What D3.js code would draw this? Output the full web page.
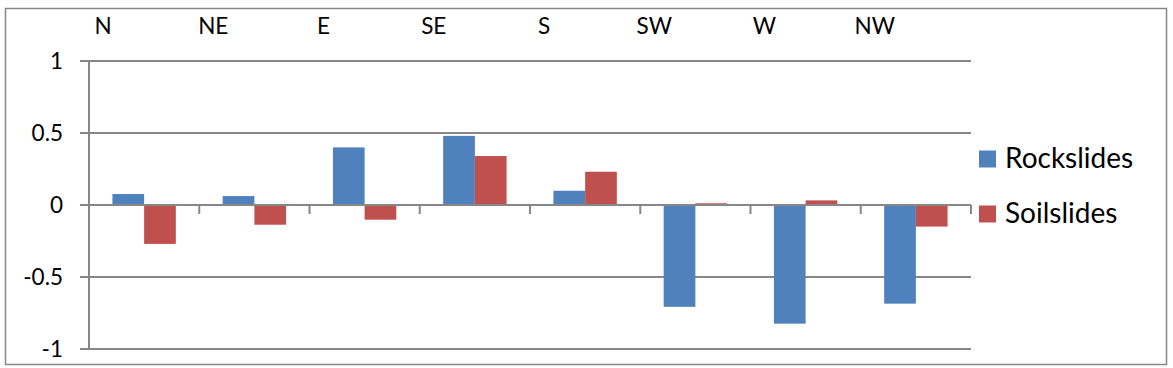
<!DOCTYPE html>
<html>
<head>
<meta charset="utf-8">
<script src="https://cdn.jsdelivr.net/npm/d3@7/dist/d3.min.js"></script>
<style>
  html, body { margin: 0; padding: 0; background: #fff; }
  svg { display: block; }
  text { font-family: Lato, "Open Sans", sans-serif; fill: #000; }
</style>
</head>
<body>
<svg id="chart" width="1173" height="368"></svg>
<script>
const categories = ["N", "NE", "E", "SE", "S", "SW", "W", "NW"];
const seriesNames = ["Rockslides", "Soilslides"];
const rockslides = [0.076, 0.062, 0.40, 0.48, 0.099, -0.707, -0.824, -0.685];
const soilslides = [-0.27, -0.137, -0.102, 0.34, 0.231, 0.012, 0.032, -0.15];
const yTicks = [-1, -0.5, 0, 0.5, 1];
const yTickLabels = ["-1", "-0.5", "0", "0.5", "1"];
const colors = ["#4F81BD", "#C0504D"];

const seriesValues = [rockslides, soilslides];
const svg = d3.select("#chart");
const grid = "#878787";

// outer border
svg.append("rect")
  .attr("x", 5.5).attr("y", 8.5).attr("width", 1161).attr("height", 356)
  .attr("fill", "#fff").attr("stroke", grid).attr("stroke-width", 1.5);

const x0 = d3.scaleBand().domain(categories).range([89, 971]).padding(0);
const x1 = d3.scaleBand().domain(seriesNames).range([0, x0.bandwidth()])
  .paddingInner(0).paddingOuter(0.739);
const y = d3.scaleLinear().domain([-1, 1]).range([349, 61]);

// gridlines + y ticks
const g = svg.append("g");
g.selectAll("line.grid").data(yTicks).enter().append("line")
  .attr("class", "grid")
  .attr("x1", 80).attr("x2", 971)
  .attr("y1", d => y(d)).attr("y2", d => y(d))
  .attr("stroke", grid).attr("stroke-width", 2);

// y axis line
g.append("line").attr("x1", 89).attr("x2", 89)
  .attr("y1", y(1)).attr("y2", y(-1))
  .attr("stroke", grid).attr("stroke-width", 2);

// y tick labels
g.selectAll("text.ylab").data(yTicks).enter().append("text")
  .attr("class", "ylab")
  .attr("x", 63).attr("y", d => y(d))
  .attr("dy", "0.36em")
  .attr("text-anchor", "end")
  .style("font-size", "22.5px")
  .text((d, i) => yTickLabels[i]);

// bars
const bars = svg.append("g");
seriesNames.forEach((s, si) => {
  bars.selectAll("rect.s" + si).data(seriesValues[si]).enter().append("rect")
    .attr("class", "s" + si)
    .attr("x", (d, i) => x0(categories[i]) + x1(s))
    .attr("width", x1.bandwidth())
    .attr("y", d => y(Math.max(0, d)))
    .attr("height", d => Math.abs(y(d) - y(0)))
    .attr("fill", colors[si]);
});

// category axis at zero
const zeroY = y(0);
svg.append("line").attr("x1", 89).attr("x2", 971)
  .attr("y1", zeroY).attr("y2", zeroY)
  .attr("stroke", grid).attr("stroke-width", 2);
const boundaries = categories.map(c => x0(c) + x0.bandwidth());
svg.selectAll("line.ctick").data(boundaries).enter().append("line")
  .attr("class", "ctick")
  .attr("x1", d => d).attr("x2", d => d)
  .attr("y1", zeroY).attr("y2", zeroY + 9)
  .attr("stroke", grid).attr("stroke-width", 2);

// category labels at top
svg.selectAll("text.cat").data(categories).enter().append("text")
  .attr("class", "cat")
  .attr("x", d => x0(d) + 14)
  .attr("y", 34)
  .attr("text-anchor", "middle")
  .style("font-size", "22.5px")
  .text(d => d);

// legend
const leg = svg.append("g");
seriesNames.forEach((s, i) => {
  const cy = 159 + i * 55;
  leg.append("rect").attr("x", 979).attr("y", cy - 8.5)
    .attr("width", 17).attr("height", 17).attr("fill", colors[i]);
  leg.append("text").attr("x", 1005).attr("y", cy + 8.5)
    .style("font-size", "28px").text(s);
});
</script>
</body>
</html>
